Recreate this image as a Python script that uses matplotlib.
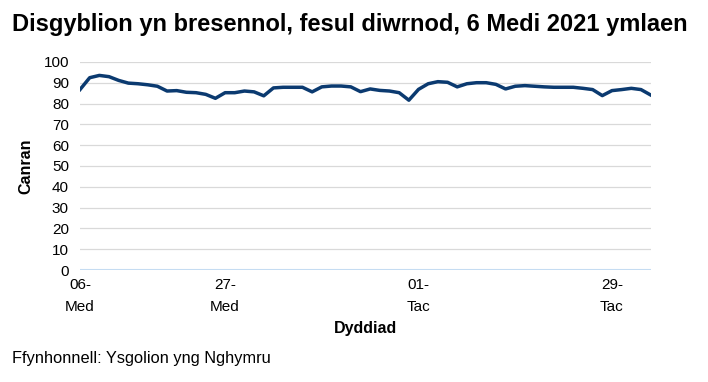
import matplotlib
matplotlib.use("Agg")
import matplotlib.pyplot as plt

plt.rcParams['font.family'] = ['Liberation Sans', 'DejaVu Sans']

# school days: 6 Sep - 22 Oct 2021, then 1 Nov - 3 Dec 2021 (half term dropped)
attendance = [
    86.7, 92.4, 93.5, 92.9, 91.1, 89.8, 89.5, 89.0, 88.3, 86.0,
    86.2, 85.4, 85.2, 84.4, 82.5, 85.2, 85.2, 86.0, 85.6, 83.7,
    87.5, 87.8, 87.8, 87.8, 85.6, 88.0, 88.4, 88.4, 88.0, 85.7,
    87.0, 86.3, 86.0, 85.2, 81.6, 86.8, 89.5, 90.5, 90.2, 88.0,
    89.5, 90.0, 90.0, 89.2, 87.0, 88.3, 88.6, 88.3, 88.0, 87.8,
    87.8, 87.8, 87.3, 86.7, 83.8, 86.2, 86.7, 87.3, 86.7, 84.1,
]
tick_pos = [0, 15, 35, 55]
tick_labels = ["06-\nMed", "27-\nMed", "01-\nTac", "29-\nTac"]

fig = plt.figure(figsize=(7.08, 3.82), dpi=100)
ax = fig.add_axes([0.113, 0.293, 0.806, 0.545])

x = list(range(len(attendance)))
ax.plot(x, attendance, color="#0b3a70", linewidth=2.5, solid_joinstyle="round", zorder=3)

ax.set_xlim(0, len(attendance) - 1)
ax.set_ylim(0, 100)
ax.set_yticks(range(0, 101, 10))
ax.yaxis.grid(True, color="#d9d9d9", linewidth=0.9)
ax.axhline(0, color="#c5dcf2", linewidth=1.5, zorder=2)
ax.set_axisbelow(True)
for s in ax.spines.values():
    s.set_visible(False)
ax.tick_params(axis="both", length=0, labelsize=11, colors="black")
ax.tick_params(axis="y", pad=8)
ax.tick_params(axis="x", pad=6)
ax.set_xticks(tick_pos)
ax.set_xticklabels(tick_labels, linespacing=1.65)

ax.set_ylabel("Canran", fontsize=11.5, fontweight="bold", labelpad=7)
ax.set_xlabel("Dyddiad", fontsize=11.5, fontweight="bold", labelpad=5)

fig.text(0.017, 0.935, "Disgyblion yn bresennol, fesul diwrnod, 6 Medi 2021 ymlaen",
         fontsize=17, fontweight="bold", ha="left", va="center")
fig.text(0.017, 0.062, "Ffynhonnell: Ysgolion yng Nghymru", fontsize=11.8, ha="left", va="center")

fig.savefig("out.png", dpi=100)
